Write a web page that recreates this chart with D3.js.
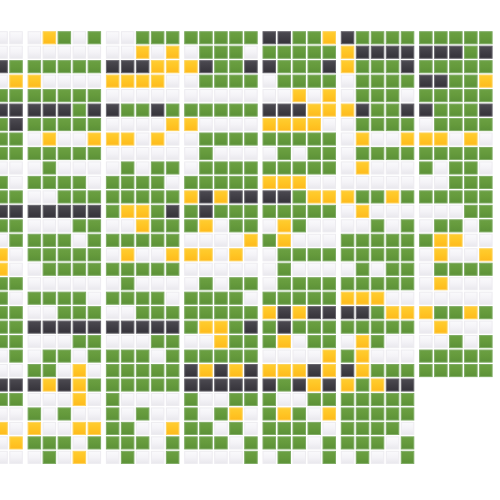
<!DOCTYPE html>
<html><head><meta charset="utf-8">
<script src="https://cdn.jsdelivr.net/npm/d3@7/dist/d3.min.js"></script>
<style>html,body{margin:0;padding:0;background:#fff}svg{display:block}</style>
</head><body><div id="chart"></div>
<script>
// Status codes: W = none, G = ok, K = dark, Y = warning. One string per row, one letter per column.
const groupA = ["WW","WW","KG","WY","GG","KK","GK","GG","GG","WW","GW","GG","KK","GG","WG","YW","YW","GG","GW","GG","GG","GG","WG","WW","KK","GG","WW","YW","WY","WW"];
const groupB = ["WYGWG","WWWWW","GGGGG","YWWWW","GGGGG","KKKGK","GGGGG","WYWWY","GGGGG","WGWWW","GGGGW","WWGGG","KKKKK","WWWGG","GGGWG","GGGGG","WGGGG","WWWWW","GGGGW","WWGGG","KKKKK","WWWGG","WGGWG","GGWYW","KYKYG","WWWYW","GWGWW","YWWYY","GGGWG","WGWYW"];
const groupC = ["WWGGG","WWYWY","KKKYY","YYYYW","WWWWW","KGGKG","WWWWY","YYWYW","WWWWW","WGWGG","GGGGW","GGGGG","GYYGK","WWYGG","GGGGG","WYWWY","GGGGG","WGWWW","GGGGW","WWGGG","KKKKK","WWWGG","GGGWG","GGGGG","GGGGG","GWWWW","GWGWW","GGWWY","GGGWG","WGWWG"];
const groupD = ["GGGGG","WGGGW","YKGGK","WGGGG","WWWWW","GGGGG","YWWWW","WGGGG","WGWWW","WGGGG","GGGGG","YKYKK","GKGGG","GYWGG","WWWWY","YYWYW","WWWWW","WGWGG","GGGGW","GGGGG","GYYGK","WWYGG","GGGGG","KYKYK","KKKKK","GWWGG","GWGYW","GGWGW","GGGWG","WWWWG"];
const groupE = ["KKGGY","GGGGG","KGGGK","WGGGG","WWYWY","KKKYY","YYYYW","GGGGG","WGWGG","GGGGG","YYYWW","KKGYY","GGGGG","WYGWW","GYWWW","WGGGG","WGWWW","WGGGG","GGGGG","YKYKK","GKGGG","GYWGG","WWWWY","YYYKY","KGKYK","GWWGG","GYGWY","GGGGW","GGGWG","WGWWG"];
const groupF = ["KGGGG","YKKKK","YGGGK","WGGGG","WGGGW","YKGGK","WGGGG","WYWWY","WGGGG","WYWWW","WWWWW","YGGYG","WYWWW","WWGWG","GGGGG","GGGGG","WGWGG","GGGGG","YYYWW","KKGYY","GGGGG","WYGWW","GYWWW","KYGGG","YGYKK","GGGGG","GGGGG","GGGGW","GGGWG","WGWWG"];
const groupG = ["GGGGG","KKKGK","GGGGG","KKGGY","GGGGG","KGGGK","WGGGG","YYWYW","GGGGG","GWGGW","WWGGG","GGGGG","WWWGG","WGGWG","GYYWW","WYWWY","WGGGG","WYWWW","WWWWW","YGGYG","WYWWW","WWGWG","GGGGG","GGGGG"];
const groups = [groupA, groupB, groupC, groupD, groupE, groupF, groupG];
const statuses = ["W", "G", "K", "Y"];

const W = 500, H = 500;
const cellW = 13.5, cellH = 13.1;
const groupIndex = d3.range(groups.length);
const groupX = d3.scaleLinear().domain([1, 2]).range([27.6, 105.9]);
const colX = d3.scaleLinear().domain([0, 1]).range([0, 15]);
const rowY = d3.scaleLinear().domain([0, 1]).range([31.2, 45.67]);

const svg = d3.select("#chart").append("svg").attr("width", W).attr("height", H);
const defs = svg.append("defs");
const palette = {
  W: {stops: ["#fafafc", "#f4f3f7", "#e9e8ed"], stroke: "#edecf0"},
  G: {stops: ["#6ba042", "#659a3c", "#5c9138"], stroke: "#7eab63"},
  K: {stops: ["#4c4a51", "#403e45", "#35333a"], stroke: "#67656c"},
  Y: {stops: ["#ffcd30", "#ffc524", "#feba1d"], stroke: "#fdd25a"}
};
statuses.forEach(s => {
  const lg = defs.append("linearGradient").attr("id", "grad" + s).attr("x1", 0).attr("x2", 0).attr("y1", 0).attr("y2", 1);
  palette[s].stops.forEach((c, i) => lg.append("stop").attr("offset", i / 2).attr("stop-color", c));
});

const cells = [];
groupIndex.forEach(g => {
  groups[g].forEach((row, r) => {
    // the first group is cut by the left edge: only its last two columns show
    const offset = g === 0 ? 3 : 0;
    row.split("").forEach((s, c) => cells.push({g, r, c: c + offset, s}));
  });
});

svg.append("g").selectAll("rect").data(cells).join("rect")
  .attr("x", d => groupX(d.g) + colX(d.c) + 0.5)
  .attr("y", d => rowY(d.r) + 0.5)
  .attr("width", cellW - 1)
  .attr("height", cellH - 1)
  .attr("fill", d => `url(#grad${d.s})`)
  .attr("stroke", d => palette[d.s].stroke)
  .attr("stroke-width", 1);
</script></body></html>
